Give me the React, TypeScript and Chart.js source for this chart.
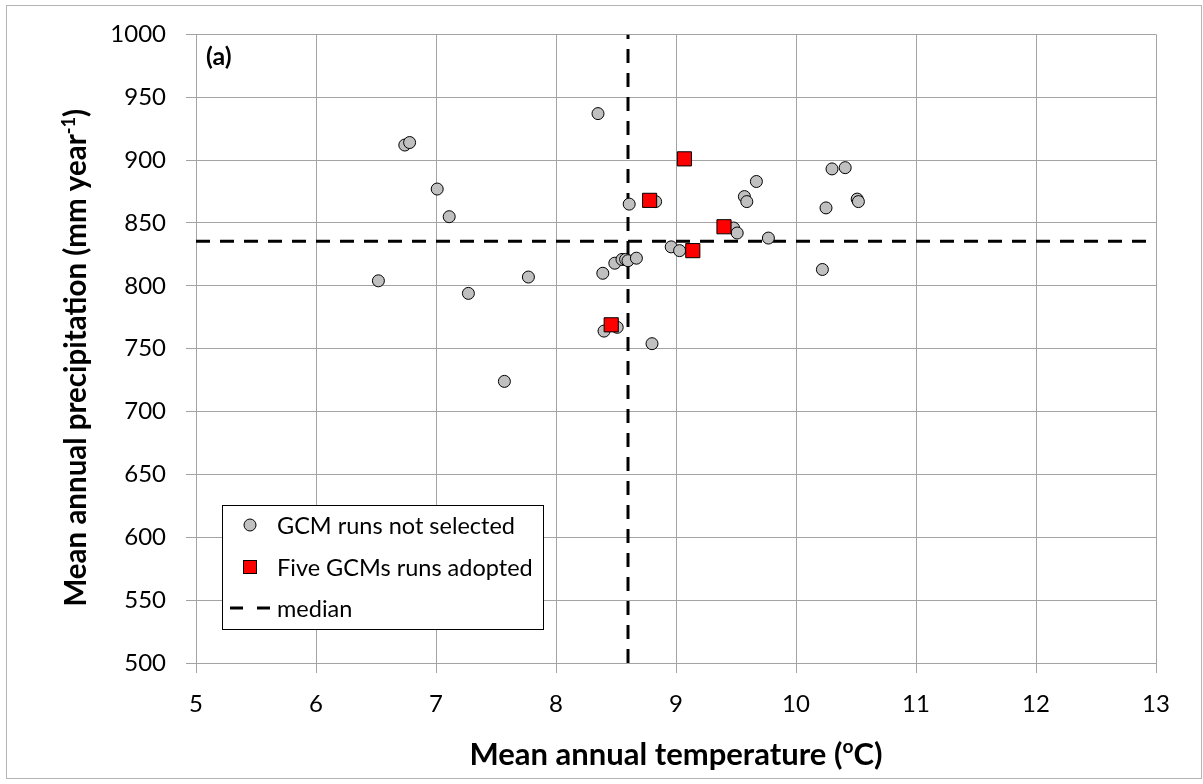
import React, { useEffect, useRef } from "react";
import { Chart, registerables } from "chart.js";

Chart.register(...registerables);

// ---- Data ----
const tempNotSelected = [6.52, 6.74, 6.78, 7.01, 7.11, 7.27, 7.57, 7.77, 8.35, 8.61, 8.83, 8.39, 8.49, 8.55, 8.58, 8.6, 8.67, 8.4, 8.51, 8.8, 8.96, 9.03, 9.48, 9.51, 9.57, 9.59, 9.67, 9.77, 10.22, 10.25, 10.3, 10.41, 10.51, 10.52];
const precipNotSelected = [804, 912, 914, 877, 855, 794, 724, 807, 937, 865, 867, 810, 818, 821, 821, 820, 822, 764, 767, 754, 831, 828, 846, 842, 871, 867, 883, 838, 813, 862, 893, 894, 869, 867];
const tempAdopted = [8.46, 8.78, 9.07, 9.14, 9.4];
const precipAdopted = [769, 868, 901, 828, 847];
const medianTemp = 8.6;
const medianPrecip = 835.5;
const xRange = [5, 13];
const yRange = [500, 1000];
const xStep = 1;
const yStep = 50;
const seriesLabels = ["GCM runs not selected", "Five GCMs runs adopted", "median"];
const panelLabel = "(a)";

const FONT = "Lato, 'Open Sans', sans-serif";

type Part = { t: string; sup?: boolean };

function drawRich(ctx: CanvasRenderingContext2D, parts: Part[], cx: number, cy: number, size: number, weight: string) {
  const supSize = size * 0.62;
  let total = 0;
  const widths: number[] = [];
  for (const p of parts) {
    ctx.font = `${weight} ${p.sup ? supSize : size}px ${FONT}`;
    const w = ctx.measureText(p.t).width;
    widths.push(w);
    total += w;
  }
  let x = cx - total / 2;
  const base = cy + size * 0.35;
  ctx.textAlign = "left";
  ctx.textBaseline = "alphabetic";
  parts.forEach((p, i) => {
    ctx.font = `${weight} ${p.sup ? supSize : size}px ${FONT}`;
    ctx.fillText(p.t, x, p.sup ? base - size * 0.38 : base);
    x += widths[i];
  });
}

const decorPlugin = {
  id: "decor",
  beforeDraw(chart: any) {
    const ctx = chart.ctx as CanvasRenderingContext2D;
    ctx.save();
    ctx.fillStyle = "#ffffff";
    ctx.fillRect(0, 0, chart.width, chart.height);
    ctx.strokeStyle = "#b5b5b5";
    ctx.lineWidth = 1;
    ctx.strokeRect(6.5, 5.5, 1195, 773);
    ctx.restore();
  },
  afterDraw(chart: any) {
    const ctx = chart.ctx as CanvasRenderingContext2D;
    const area = chart.chartArea;
    ctx.save();
    ctx.fillStyle = "#000";
    // x title
    drawRich(ctx, [{ t: "Mean annual temperature (" }, { t: "o", sup: true }, { t: "C)" }], (area.left + area.right) / 2, 754, 31, "bold");
    // y title
    ctx.save();
    ctx.translate(76, (area.top + area.bottom) / 2 + 9);
    ctx.rotate(-Math.PI / 2);
    drawRich(ctx, [{ t: "Mean annual precipitation (mm year" }, { t: "-1", sup: true }, { t: ")" }], 0, 0, 29.5, "bold");
    ctx.restore();
    // panel label
    ctx.font = `bold 25px ${FONT}`;
    ctx.textAlign = "left";
    ctx.textBaseline = "middle";
    ctx.fillText(panelLabel, 206, 57);

    // legend
    const lx = 222, ly = 505, lw = 321, lh = 124;
    ctx.fillStyle = "#fff";
    ctx.fillRect(lx, ly, lw, lh);
    ctx.strokeStyle = "#000";
    ctx.lineWidth = 1;
    ctx.strokeRect(lx + 0.5, ly + 0.5, lw, lh);
    const rows = [525, 567, 608];
    ctx.beginPath();
    ctx.arc(250, rows[0], 6, 0, Math.PI * 2);
    ctx.fillStyle = "#c0c0c0";
    ctx.fill();
    ctx.strokeStyle = "#000";
    ctx.stroke();
    ctx.fillStyle = "#ff0000";
    ctx.fillRect(243.5, rows[1] - 6.5, 13, 13);
    ctx.strokeRect(243.5, rows[1] - 6.5, 13, 13);
    ctx.fillStyle = "#000";
    ctx.fillRect(230, rows[2] - 1.5, 13, 3);
    ctx.fillRect(257, rows[2] - 1.5, 13, 3);
    ctx.font = `23.5px ${FONT}`;
    ctx.textBaseline = "middle";
    ctx.fillStyle = "#000";
    seriesLabels.forEach((s, i) => ctx.fillText(s, 277, rows[i] + 1));
    ctx.restore();
  },
};

export default function App() {
  const ref = useRef<HTMLCanvasElement | null>(null);
  useEffect(() => {
    if (!ref.current) return;
    const grid = "#a3a3a3";
    const chart = new Chart(ref.current, {
      type: "scatter",
      data: {
        datasets: [
          {
            label: seriesLabels[1],
            data: tempAdopted.map((x, i) => ({ x, y: precipAdopted[i] })),
            pointStyle: "rect",
            pointRadius: 10,
            backgroundColor: "#ff0000",
            borderColor: "#000",
            borderWidth: 1,
            order: 1,
          },
          {
            label: seriesLabels[0],
            data: tempNotSelected.map((x, i) => ({ x, y: precipNotSelected[i] })),
            pointStyle: "circle",
            pointRadius: 6,
            backgroundColor: "#c0c0c0",
            borderColor: "#000",
            borderWidth: 1,
            order: 2,
          },
          {
            label: seriesLabels[2],
            data: [{ x: medianTemp, y: yRange[0] }, { x: medianTemp, y: yRange[1] }],
            showLine: true,
            pointRadius: 0,
            borderColor: "#000",
            borderWidth: 3,
            borderDash: [14, 10],
            order: 3,
          } as any,
          {
            label: seriesLabels[2] + " h",
            data: [{ x: xRange[0], y: medianPrecip }, { x: xRange[1], y: medianPrecip }],
            showLine: true,
            pointRadius: 0,
            borderColor: "#000",
            borderWidth: 3,
            borderDash: [14, 10],
            order: 3,
          } as any,
        ],
      },
      options: {
        animation: false,
        responsive: false,
        devicePixelRatio: 1,
        layout: { padding: { left: 0, top: 32, right: 47, bottom: 0 } },
        plugins: { legend: { display: false }, tooltip: { enabled: false } },
        scales: {
          x: {
            type: "linear",
            min: xRange[0],
            max: xRange[1],
            ticks: { stepSize: xStep, color: "#000", font: { family: FONT, size: 24 }, padding: 17, callback: (v: any) => String(v) },
            grid: { color: grid, tickLength: 10, tickColor: grid },
            border: { color: grid },
            afterFit: (s: any) => { s.height = 121; },
          },
          y: {
            type: "linear",
            min: yRange[0],
            max: yRange[1],
            ticks: { stepSize: yStep, color: "#000", font: { family: FONT, size: 24 }, padding: 20, callback: (v: any) => String(v) },
            grid: { color: grid, tickLength: 10, tickColor: grid },
            border: { color: grid },
            afterFit: (s: any) => { s.width = 196; },
          },
        },
      },
      plugins: [decorPlugin],
    });
    return () => chart.destroy();
  }, []);
  return (
    <div style={{ position: "absolute", left: 0, top: 0, width: 1203, height: 784 }}>
      <canvas ref={ref} width={1203} height={784} style={{ width: 1203, height: 784, display: "block" }} />
    </div>
  );
}
